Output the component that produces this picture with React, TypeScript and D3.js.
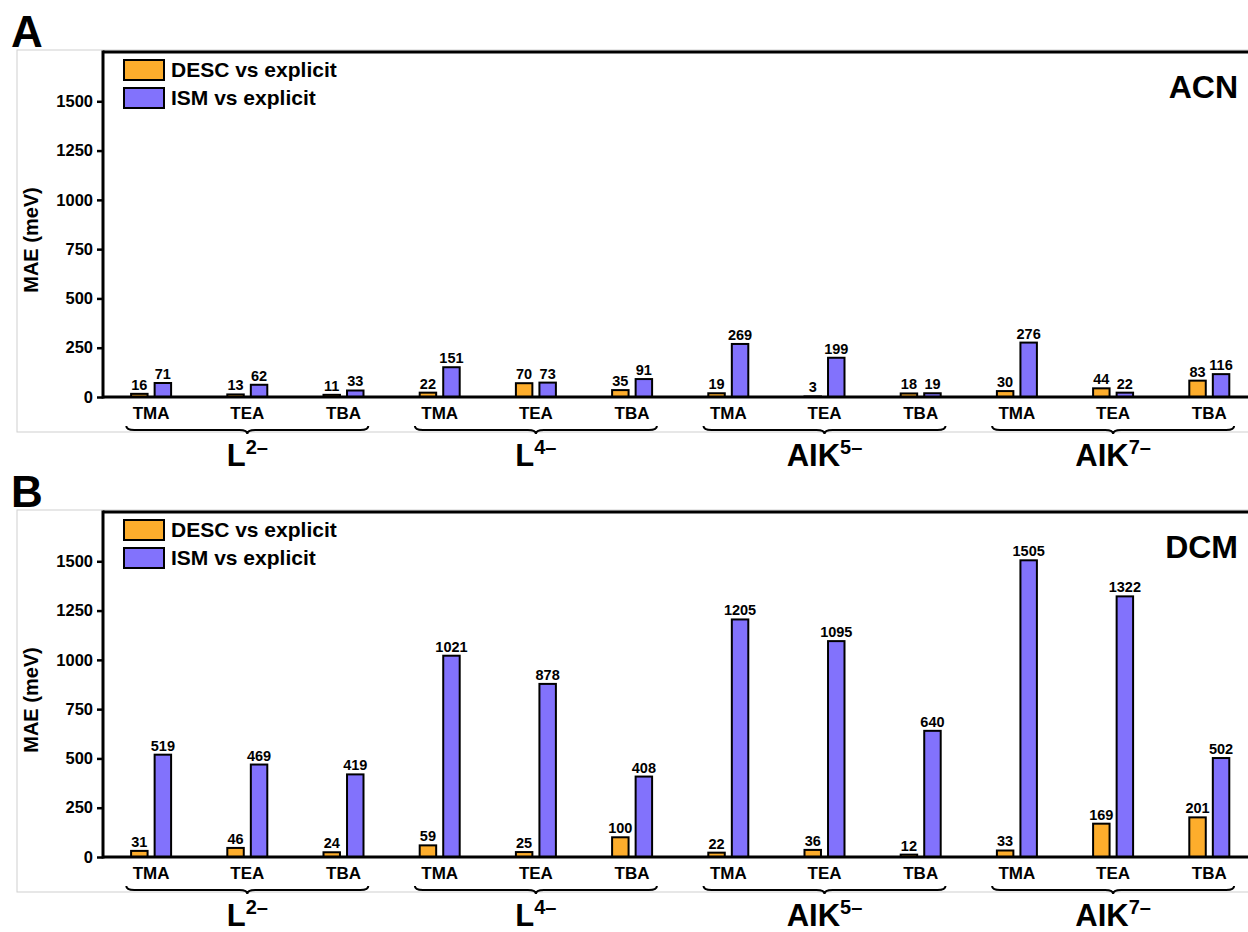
import React, { useRef, useEffect } from 'react';
import * as d3 from 'd3';

// categories
const anions = ['TMA', 'TEA', 'TBA', 'TMA', 'TEA', 'TBA', 'TMA', 'TEA', 'TBA', 'TMA', 'TEA', 'TBA'];
const groupBase = ['L', 'L', 'AIK', 'AIK'];
const groupCharge = ['2–', '4–', '5–', '7–'];
const seriesNames = ['DESC vs explicit', 'ISM vs explicit'];
const yTicks = [0, 250, 500, 750, 1000, 1250, 1500];

// ACN panel values (meV)
const acnDesc = [16, 13, 11, 22, 70, 35, 19, 3, 18, 30, 44, 83];
const acnIsm = [71, 62, 33, 151, 73, 91, 269, 199, 19, 276, 22, 116];

// DCM panel values (meV)
const dcmDesc = [31, 46, 24, 59, 25, 100, 22, 36, 12, 33, 169, 201];
const dcmIsm = [519, 469, 419, 1021, 878, 408, 1205, 1095, 640, 1505, 1322, 502];

const colors = ['#FDAD2C', '#8272FC'];
const FONT = '"Liberation Sans", Arial, Helvetica, sans-serif';

const W = 1248;
const H = 932;

function drawPanel(root, opts) {
  const { top, letter, solvent, desc, ism } = opts;
  const left = 103;
  const right = W;
  const plotTop = top;
  const zeroY = top + 345;

  const g = root.append('g');

  // light gray frame
  g.append('rect')
    .attr('x', 17)
    .attr('y', top - 2)
    .attr('width', W)
    .attr('height', 382)
    .attr('fill', 'none')
    .attr('stroke', '#cfcfcf')
    .attr('stroke-width', 1);

  // panel letter
  g.append('text')
    .attr('x', 11)
    .attr('y', top - 5)
    .attr('font-family', FONT)
    .attr('font-weight', 'bold')
    .attr('font-size', 44)
    .text(letter);

  const x0 = d3
    .scaleBand()
    .domain(d3.range(anions.length))
    .range([left, left + 96.2 * anions.length]);

  const x1 = d3.scaleBand().domain(seriesNames).range([0, 40]).paddingInner(0.3);

  const y = d3.scaleLinear().domain([0, 1750]).range([zeroY, plotTop]);

  // y axis ticks
  const yAxis = g
    .append('g')
    .attr('transform', `translate(${left},0)`)
    .call(
      d3.axisLeft(y).tickValues(yTicks).tickFormat(d3.format('d')).tickSize(6).tickPadding(4)
    );
  yAxis.select('.domain').remove();
  yAxis.selectAll('line').attr('stroke', '#000').attr('stroke-width', 2.5);
  yAxis
    .selectAll('text')
    .attr('font-family', FONT)
    .attr('font-weight', 'bold')
    .attr('font-size', 16.5)
    .attr('fill', '#000');

  // y label
  g.append('text')
    .attr('transform', `translate(38,${top + 188}) rotate(-90)`)
    .attr('text-anchor', 'middle')
    .attr('font-family', FONT)
    .attr('font-weight', 'bold')
    .attr('font-size', 20)
    .text('MAE (meV)');

  // bars
  const rows = anions.map((a, i) => ({ i, vals: [desc[i], ism[i]] }));
  const cat = g
    .selectAll('g.cat')
    .data(rows)
    .join('g')
    .attr('class', 'cat')
    .attr('transform', (d) => `translate(${x0(d.i) + x0.bandwidth() / 2 - 20},0)`);

  cat
    .selectAll('rect')
    .data((d) => d.vals.map((v, k) => ({ v, k })))
    .join('rect')
    .attr('x', (d) => x1(seriesNames[d.k]))
    .attr('width', x1.bandwidth())
    .attr('y', (d) => y(d.v))
    .attr('height', (d) => zeroY - y(d.v))
    .attr('fill', (d) => colors[d.k])
    .attr('stroke', '#000')
    .attr('stroke-width', 2);

  cat
    .selectAll('text')
    .data((d) => d.vals.map((v, k) => ({ v, k })))
    .join('text')
    .attr('x', (d) => x1(seriesNames[d.k]) + x1.bandwidth() / 2)
    .attr('y', (d) => y(d.v) - 4)
    .attr('text-anchor', 'middle')
    .attr('font-family', FONT)
    .attr('font-weight', 'bold')
    .attr('font-size', 14.5)
    .text((d) => d.v);

  // axis frame lines
  g.append('line')
    .attr('x1', left).attr('x2', left)
    .attr('y1', plotTop - 1.5).attr('y2', zeroY + 1.5)
    .attr('stroke', '#000').attr('stroke-width', 3);
  g.append('line')
    .attr('x1', left).attr('x2', right)
    .attr('y1', plotTop).attr('y2', plotTop)
    .attr('stroke', '#000').attr('stroke-width', 3);
  g.append('line')
    .attr('x1', left).attr('x2', right)
    .attr('y1', zeroY).attr('y2', zeroY)
    .attr('stroke', '#000').attr('stroke-width', 3);

  // x tick labels
  g.selectAll('text.xt')
    .data(anions)
    .join('text')
    .attr('class', 'xt')
    .attr('x', (d, i) => x0(i) + x0.bandwidth() / 2)
    .attr('y', zeroY + 22)
    .attr('text-anchor', 'middle')
    .attr('font-family', FONT)
    .attr('font-weight', 'bold')
    .attr('font-size', 17)
    .text((d) => d);

  // braces + group labels
  groupBase.forEach((base, gi) => {
    const cx = x0(gi * 3) + x0.bandwidth() * 1.5;
    const a = cx - 121;
    const b = cx + 121;
    const yT = zeroY + 29;
    const yM = zeroY + 33;
    const yP = zeroY + 37;
    const q = 8;
    const p = d3.path();
    p.moveTo(a, yT);
    p.quadraticCurveTo(a, yM, a + q, yM);
    p.lineTo(cx - q, yM);
    p.quadraticCurveTo(cx, yM, cx, yP);
    p.quadraticCurveTo(cx, yM, cx + q, yM);
    p.lineTo(b - q, yM);
    p.quadraticCurveTo(b, yM, b, yT);
    g.append('path')
      .attr('d', p.toString())
      .attr('fill', 'none')
      .attr('stroke', '#000')
      .attr('stroke-width', 2);

    const t = g
      .append('text')
      .attr('x', cx)
      .attr('y', zeroY + 69)
      .attr('text-anchor', 'middle')
      .attr('font-family', FONT)
      .attr('font-weight', 'bold')
      .attr('font-size', 31);
    t.append('tspan').text(base);
    t.append('tspan')
      .attr('font-size', 20)
      .attr('dy', -12)
      .text(groupCharge[gi]);
  });

  // legend
  const leg = g.append('g').attr('transform', `translate(124,${top + 8})`);
  seriesNames.forEach((s, k) => {
    leg.append('rect')
      .attr('x', 0)
      .attr('y', k * 28)
      .attr('width', 40)
      .attr('height', 20)
      .attr('fill', colors[k])
      .attr('stroke', '#000')
      .attr('stroke-width', 2);
    leg.append('text')
      .attr('x', 47)
      .attr('y', k * 28 + 17)
      .attr('font-family', FONT)
      .attr('font-weight', 'bold')
      .attr('font-size', 21)
      .text(s);
  });

  // solvent label
  g.append('text')
    .attr('x', 1238)
    .attr('y', top + 46)
    .attr('text-anchor', 'end')
    .attr('font-family', FONT)
    .attr('font-weight', 'bold')
    .attr('font-size', 32)
    .text(solvent);
}

const App = () => {
  const svgRef = useRef(null);

  useEffect(() => {
    const svg = d3.select(svgRef.current);
    svg.selectAll('*').remove();
    svg.append('rect').attr('width', W).attr('height', H).attr('fill', '#fff');
    drawPanel(svg, { top: 52, letter: 'A', solvent: 'ACN', desc: acnDesc, ism: acnIsm });
    drawPanel(svg, { top: 512, letter: 'B', solvent: 'DCM', desc: dcmDesc, ism: dcmIsm });
  }, []);

  return (
    <svg
      ref={svgRef}
      width={W}
      height={H}
      style={{ position: 'absolute', left: 0, top: 0, display: 'block' }}
    />
  );
};

export default App;
